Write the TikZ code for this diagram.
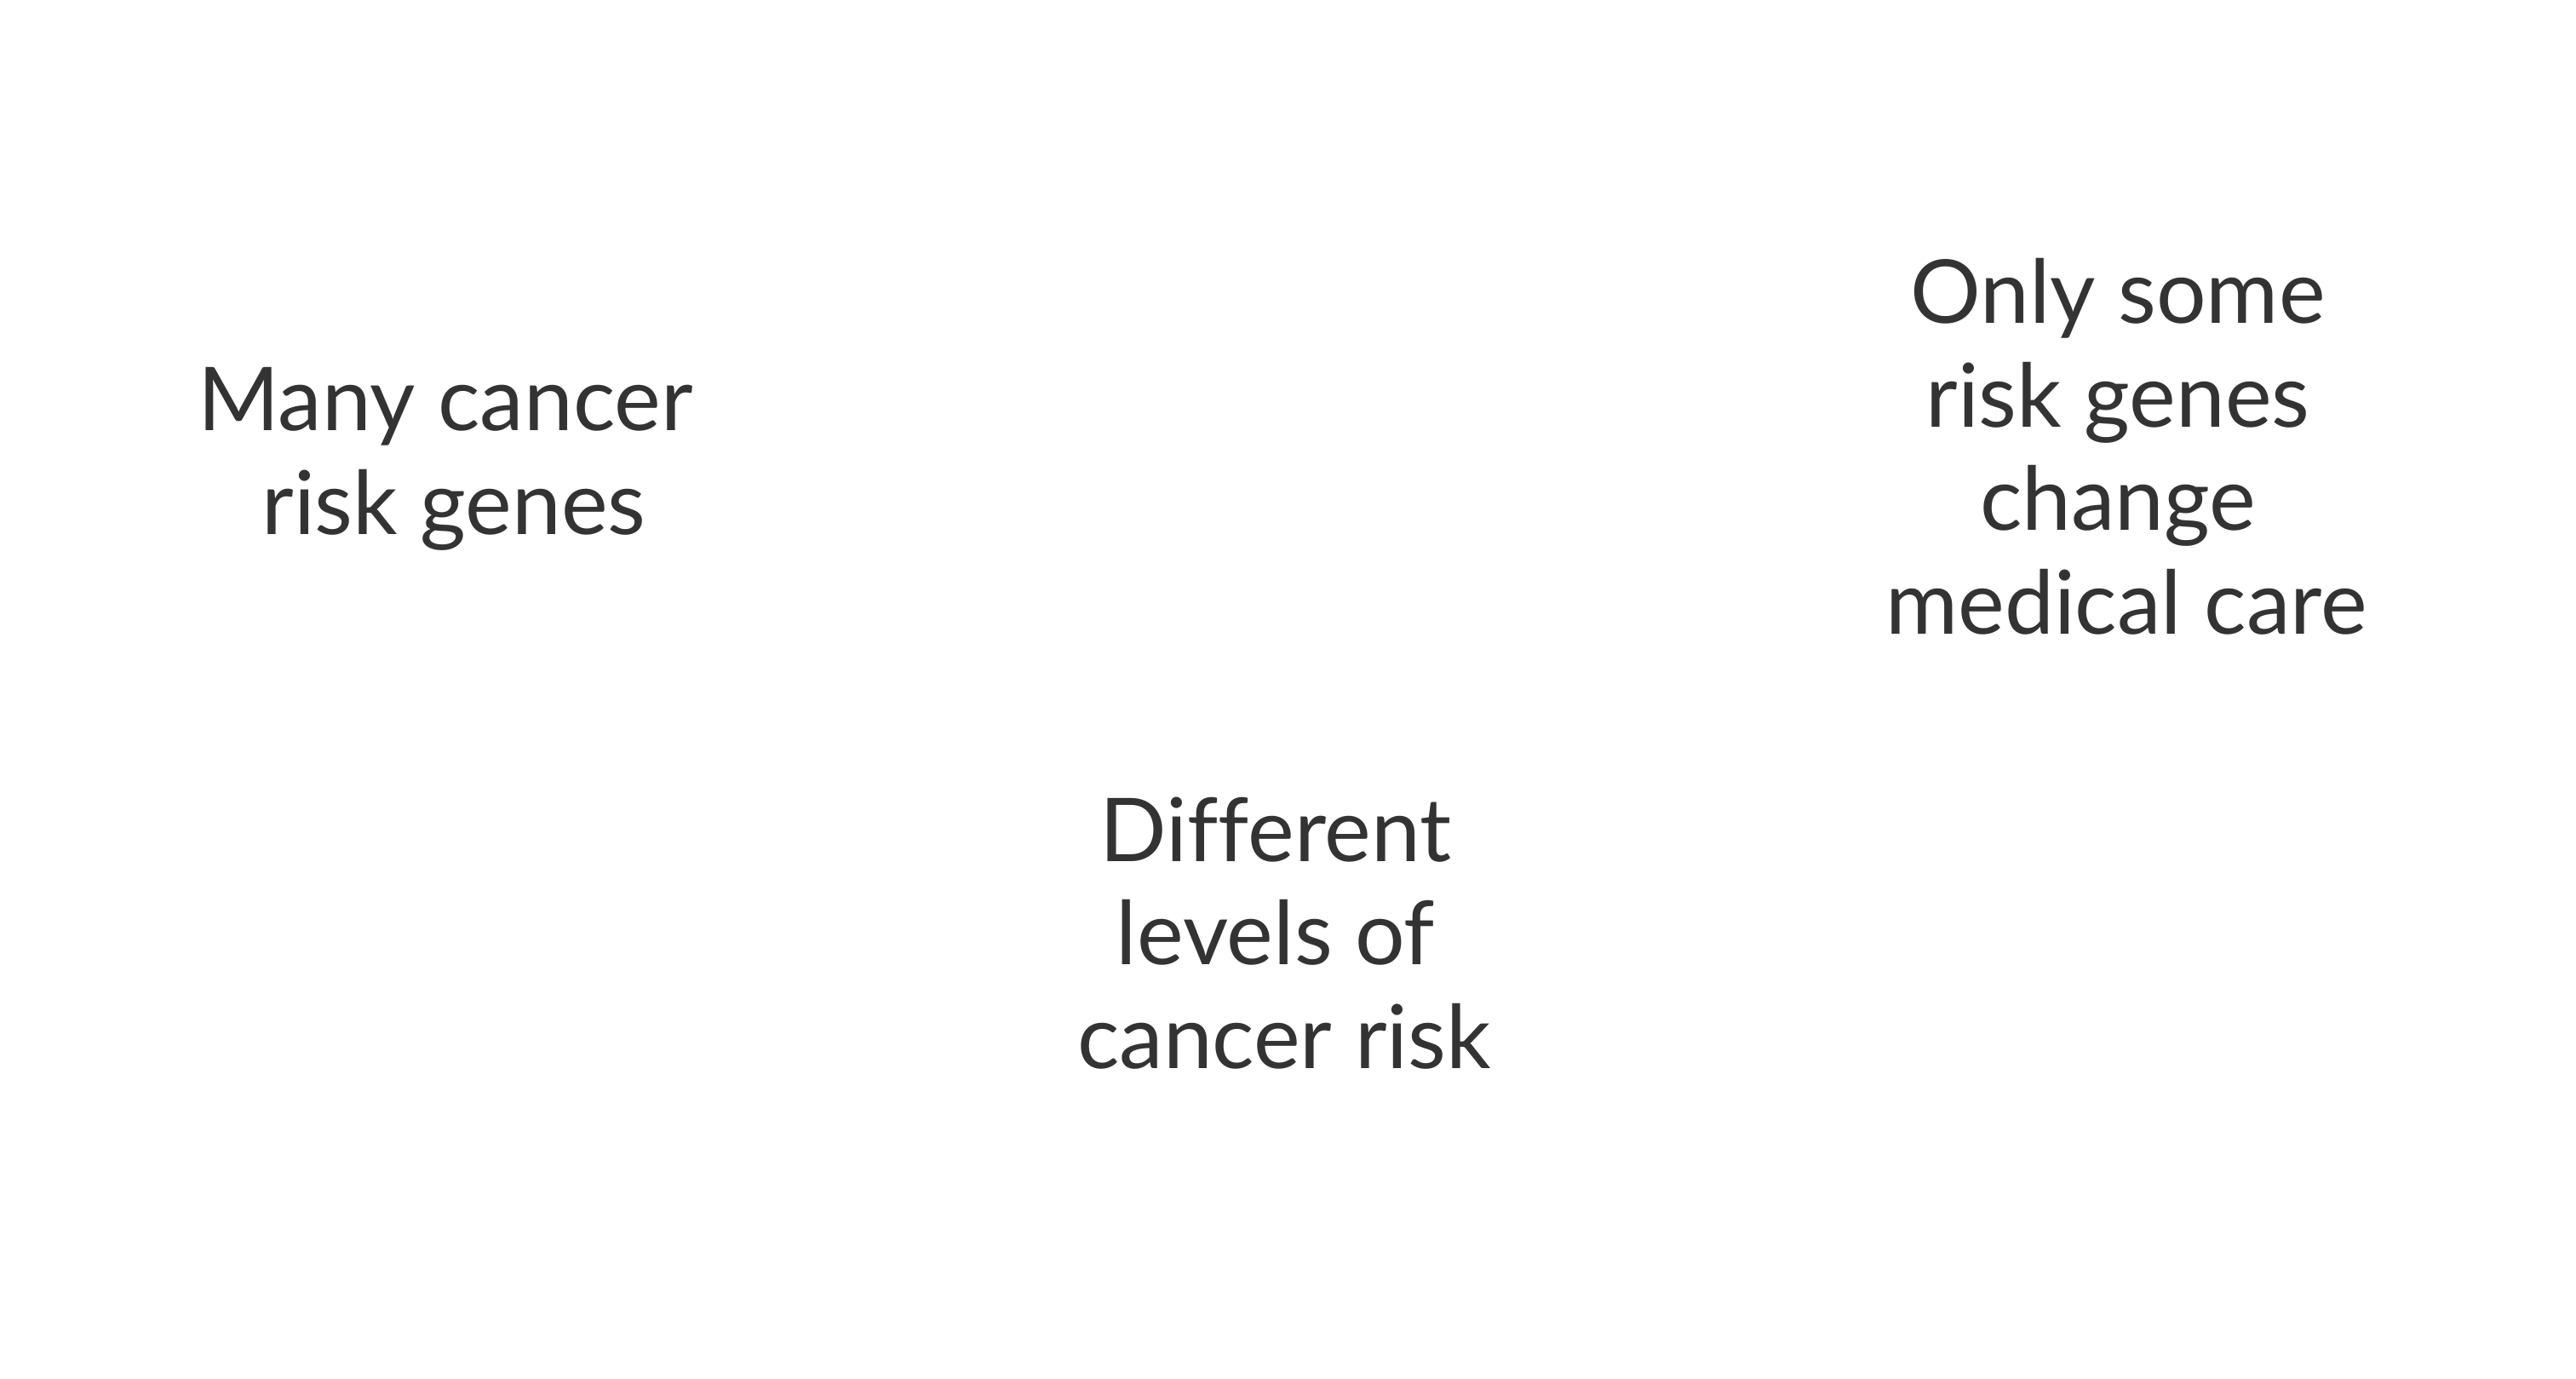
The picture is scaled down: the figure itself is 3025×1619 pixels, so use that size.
\documentclass[tikz,border=0pt]{standalone}
\usepackage{fontspec}
\setmainfont{Lato}[Ligatures=NoCommon]
\definecolor{txt}{HTML}{333333}
\newcommand{\trsp}{\kern.193em}
\begin{document}
\begin{tikzpicture}[x=1pt,y=-1pt,
  lbl/.style={align=center, inner sep=0pt, text=txt,
    font=\fontsize{103.5pt}{121.5pt}\selectfont, anchor=base}]
\useasboundingbox[fill=white] (0,0) rectangle (3025,1619);
\node[lbl] (many) at (533,627) {Many cancer\trsp\\risk genes};
\node[lbl] (only) at (2497,744) {Only some\trsp\\risk genes\trsp\\change\trsp\\medical care};
\node[lbl] (diff) at (1508,1254) {Different\trsp\\levels of\trsp\\cancer risk};
\end{tikzpicture}
\end{document}
